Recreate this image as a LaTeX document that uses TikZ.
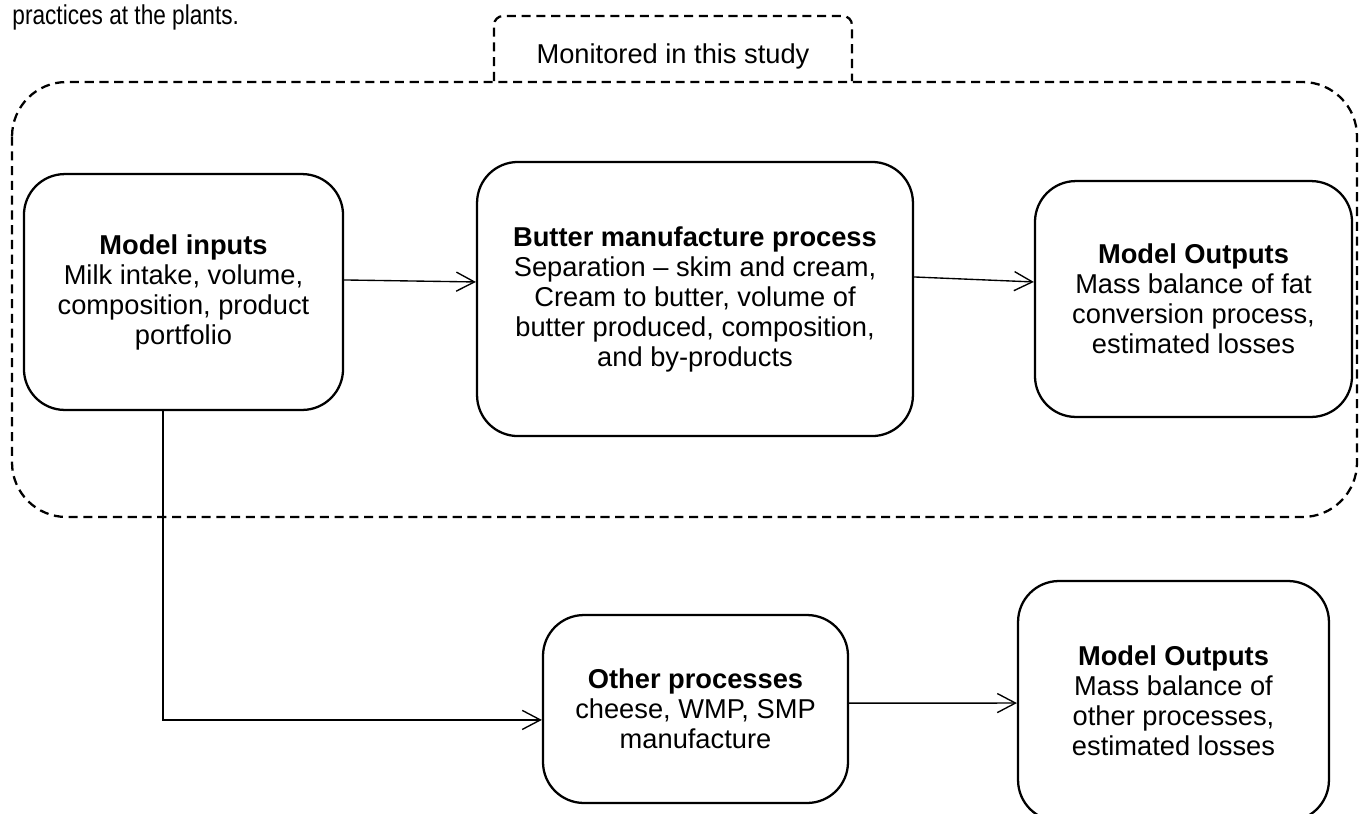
\documentclass[tikz,border=0pt]{standalone}
\usepackage{fontspec}
\setmainfont{Liberation Sans}
\newfontfamily\narrowfont{Liberation Sans}[FakeStretch=0.83]
\usetikzlibrary{arrows.meta}

\begin{document}
\begin{tikzpicture}[x=0.44pt, y=-0.44pt,
    box/.style={draw, line width=1pt, rounded corners=18pt, align=center,
      font=\fontsize{12}{13.2}\selectfont, inner sep=0pt},
    zone/.style={line width=1pt, dash pattern=on 4pt off 2.5pt},
    link/.style={->, line width=0.6pt},
    >={Straight Barb[length=8pt,width=8.4pt]}]

  \useasboundingbox (0,0) rectangle (1359,813);

  \node[anchor=base west, inner sep=0pt, font=\narrowfont\fontsize{12}{13.2}\selectfont] (Caption) at (12,24) {practices at the plants.};

  \draw[zone, rounded corners=24pt] (12,82) rectangle (1357,517);
  \draw[zone, rounded corners=4pt] (494,81) -- (494,16) -- (852,16) -- (852,81);
  \node[font=\fontsize{12}{13.2}\selectfont] (Label) at (673,56) {Monitored in this study};

  \node[box, minimum width=140.4pt, minimum height=103.8pt] (Inputs) at (183.5,292)
    {\textbf{Model inputs}\\Milk intake, volume,\\composition, product\\portfolio};
  \node[box, minimum width=191.8pt, minimum height=120.6pt] (Butter) at (695,299)
    {\textbf{Butter manufacture process}\\Separation -- skim and cream,\\Cream to butter, volume of\\butter produced, composition,\\and by-products};
  \node[box, minimum width=139.5pt, minimum height=103.8pt] (OutA) at (1193.5,299)
    {\textbf{Model Outputs}\\Mass balance of fat\\conversion process,\\estimated losses};
  \node[box, minimum width=134.2pt, minimum height=82.7pt] (Other) at (695.5,709)
    {\textbf{Other processes}\\cheese, WMP, SMP\\manufacture};
  \node[box, minimum width=136.8pt, minimum height=105.6pt] (OutB) at (1173.5,701)
    {\textbf{Model Outputs}\\Mass balance of\\other processes,\\estimated losses};

  \draw[link] ([yshift=5.3pt]Inputs.east) -- ([yshift=7.5pt]Butter.west);
  \draw[link] ([yshift=9.7pt]Butter.east) -- ([yshift=7.5pt]OutA.west);
  \draw[link] ([xshift=-9pt]Inputs.south) |- ([yshift=-4.8pt]Other.west);
  \draw[link] ([yshift=2.6pt]Other.east) -- ([yshift=-0.9pt]OutB.west);
\end{tikzpicture}
\end{document}
